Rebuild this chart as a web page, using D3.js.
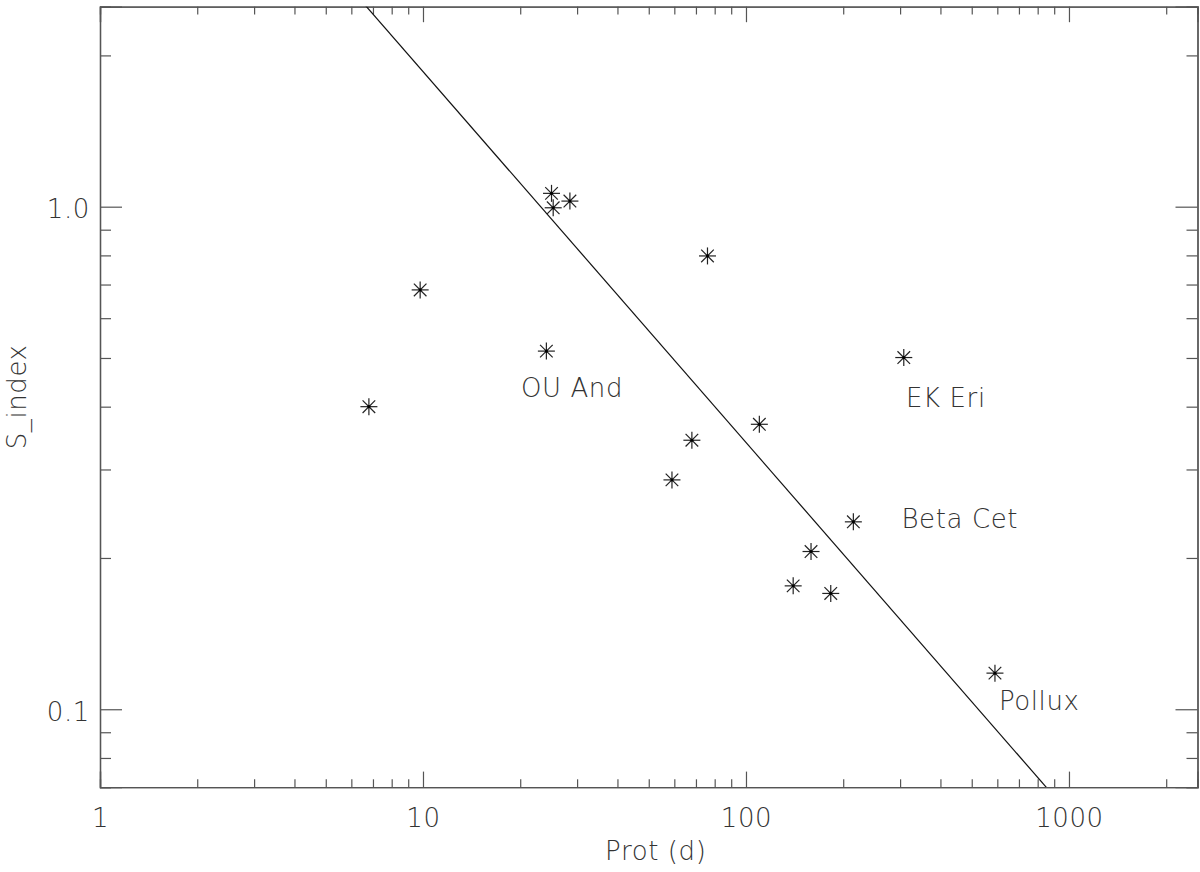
<!DOCTYPE html>
<html>
<head>
<meta charset="utf-8">
<script src="https://cdn.jsdelivr.net/npm/d3@7"></script>
<style>
  html, body { margin: 0; padding: 0; background: #fff; }
  svg { display: block; }
  text { font-family: "DejaVu Sans", sans-serif; font-weight: 200; fill: #333; letter-spacing: 0.6px; }
</style>
</head>
<body>
<svg id="chart" width="1200" height="872"></svg>
<script>
// ---- data ----
const periods = [6.8, 9.8, 25.0, 25.3, 28.5, 24.1, 76, 68, 59, 110, 308, 215, 159, 140, 183, 590];
const sIndex  = [0.40, 0.683, 1.063, 0.995, 1.026, 0.516, 0.798, 0.343, 0.286, 0.369, 0.501, 0.236, 0.206, 0.176, 0.170, 0.118];
const starNames = ["OU And", "EK Eri", "Beta Cet", "Pollux"];
const starLabelX = [20.1, 313, 303, 607];
const starLabelY = [0.418, 0.399, 0.229, 0.0997];
const fitCoef = 10.16;   // S = fitCoef * P^fitSlope
const fitSlope = -0.738;
const xDomain = [1, 2500];
const yDomain = [0.07, 2.5];
const xMajorTicks = [1, 10, 100, 1000];
const xMajorLabels = ["1", "10", "100", "1000"];
const yMajorTicks = [0.1, 1.0];
const yMajorLabels = ["0.1", "1.0"];
const xTitle = "Prot (d)";
const yTitle = "S_index";

// ---- layout ----
const W = 1200, H = 872;
const m = { left: 100, top: 6.7, right: 2.5, bottom: 84.9 };
const iw = W - m.left - m.right, ih = H - m.top - m.bottom;
const axisColor = "#555";
const FS = 26;

const svg = d3.select("#chart");
const g = svg.append("g").attr("transform", `translate(${m.left},${m.top})`);

const x = d3.scaleLog().domain(xDomain).range([0, iw]);
const y = d3.scaleLog().domain(yDomain).range([ih, 0]);

function minorTicks(domain) {
  const out = [];
  for (let e = -3; e <= 4; e++) {
    for (let k = 1; k <= 9; k++) {
      const v = +(k * Math.pow(10, e)).toPrecision(6);
      if (v >= domain[0] * 0.9999 && v <= domain[1] * 1.0001) out.push(v);
    }
  }
  return out;
}
const xMinor = minorTicks(xDomain).filter(v => !xMajorTicks.some(t => Math.abs(t - v) < 1e-9));
const yMinor = minorTicks(yDomain).filter(v => !yMajorTicks.some(t => Math.abs(t - v) < 1e-9));

const xMajLen = 15.5, xMinLen = 7.8, yMajLen = 22, yMinLen = 11;

function styleAxis(sel) {
  sel.attr("font-size", FS).attr("font-family", null);
  sel.selectAll("path.domain").attr("stroke", axisColor).attr("stroke-width", 1.3);
  sel.selectAll(".tick line").attr("stroke", axisColor).attr("stroke-width", 1.2);
  sel.selectAll(".tick text").attr("font-size", FS).attr("fill", "#333");
}

// bottom
const bx = g.append("g").attr("transform", `translate(0,${ih})`)
  .call(d3.axisBottom(x).tickValues(xMajorTicks).tickSize(-xMajLen).tickPadding(40)
    .tickFormat((d, i) => xMajorLabels[i]))
  .call(styleAxis);
bx.selectAll(".tick text").attr("dy", null);
g.append("g").attr("transform", `translate(0,${ih})`)
  .call(d3.axisBottom(x).tickValues(xMinor).tickSize(-xMinLen).tickFormat(""))
  .call(styleAxis);
// top
g.append("g")
  .call(d3.axisTop(x).tickValues(xMajorTicks).tickSize(-xMajLen).tickFormat(""))
  .call(styleAxis);
g.append("g")
  .call(d3.axisTop(x).tickValues(xMinor).tickSize(-xMinLen).tickFormat(""))
  .call(styleAxis);
// left
const ly = g.append("g")
  .call(d3.axisLeft(y).tickValues(yMajorTicks).tickSize(-yMajLen).tickPadding(10)
    .tickFormat((d, i) => yMajorLabels[i]))
  .call(styleAxis);
ly.selectAll(".tick text").attr("dy", "0.43em");
g.append("g")
  .call(d3.axisLeft(y).tickValues(yMinor).tickSize(-yMinLen).tickFormat(""))
  .call(styleAxis);
// right
g.append("g").attr("transform", `translate(${iw},0)`)
  .call(d3.axisRight(y).tickValues(yMajorTicks).tickSize(-yMajLen).tickFormat(""))
  .call(styleAxis);
g.append("g").attr("transform", `translate(${iw},0)`)
  .call(d3.axisRight(y).tickValues(yMinor).tickSize(-yMinLen).tickFormat(""))
  .call(styleAxis);

// clip
svg.append("defs").append("clipPath").attr("id", "clip")
  .append("rect").attr("width", iw).attr("height", ih);

// fit line
const line = d3.line().x(d => x(d)).y(d => y(fitCoef * Math.pow(d, fitSlope)));
g.append("path").datum(xDomain)
  .attr("clip-path", "url(#clip)")
  .attr("d", line)
  .attr("fill", "none").attr("stroke", "#111").attr("stroke-width", 1.2);

// asterisks
const pts = periods.map((p, i) => ({ p, s: sIndex[i] }));
const star = g.append("g").selectAll("g").data(pts).join("g")
  .attr("transform", d => `translate(${x(d.p)},${y(d.s)})`);
const r = 8.5, rd = 6.3;
const arms = [[-r, 0, r, 0], [0, -r, 0, r], [-rd, -rd, rd, rd], [-rd, rd, rd, -rd]];
arms.forEach(a => {
  star.append("line").attr("x1", a[0]).attr("y1", a[1]).attr("x2", a[2]).attr("y2", a[3])
    .attr("stroke", "#222").attr("stroke-width", 1.2);
});
star.append("circle").attr("r", 1.6).attr("fill", "#000");

// star labels
g.append("g").selectAll("text").data(starNames).join("text")
  .attr("x", (d, i) => x(starLabelX[i]))
  .attr("y", (d, i) => y(starLabelY[i]))
  .attr("font-size", FS)
  .text(d => d);

// axis titles
svg.append("text")
  .attr("x", m.left + iw / 2 + 7).attr("y", 860)
  .attr("text-anchor", "middle").attr("font-size", FS)
  .text(xTitle);
svg.append("text")
  .attr("transform", `translate(26,${m.top + ih / 2}) rotate(-90)`)
  .attr("text-anchor", "middle").attr("font-size", FS)
  .text(yTitle);
</script>
</body>
</html>
